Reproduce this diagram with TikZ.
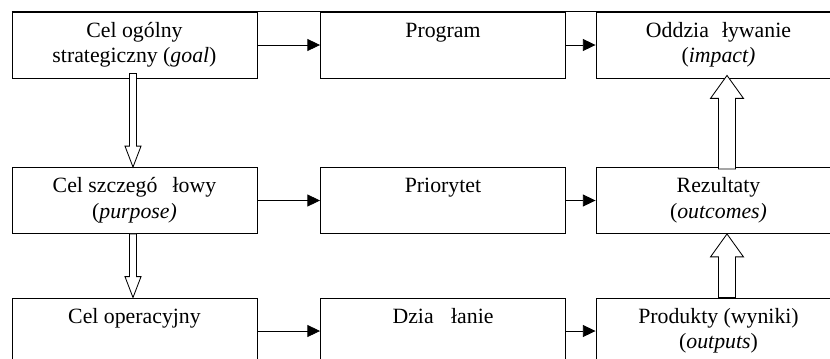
\documentclass[tikz,border=0pt]{standalone}
\usepackage{fontspec}
\setmainfont{Liberation Serif}
\usetikzlibrary{arrows.meta,calc}
\def\blockarrow[#1](#2)(#3)(#4:#5:#6){\draw[#1] let \p1=(#2), \p2=(#3), \n1={sign(\y2-\y1)*#6} in ({\x1-#4},\y1) -- ({\x1-#4},{\y2-\n1*1pt}) -- ({\x1-#5},{\y2-\n1*1pt}) -- (\x1,\y2) -- ({\x1+#5},{\y2-\n1*1pt}) -- ({\x1+#4},{\y2-\n1*1pt}) -- ({\x1+#4},\y1) -- cycle;}

\begin{document}
\begin{tikzpicture}[x=0.025cm, y=-0.025cm,
	box/.style={draw, line width=0.6pt, minimum width=6.125cm, minimum height=1.65cm, inner sep=0pt, align=center, font=\fontsize{15.5}{18}\selectfont},
	flow/.style={line width=0.6pt, -{Triangle[length=9pt,width=8.5pt]}},
	hollow/.style={line width=0.6pt, fill=white}]
		%%%%% START %%%%%
		
		\useasboundingbox (0, 0) rectangle (830, 358);
		\clip (0, 0) rectangle (830, 358);
		\coordinate (edge) at (830, 0);
		
		\node[box] (goal) at (134.5, 45) {\strut Cel ogólny\\\strut strategiczny (\textit{goal})};
		\node[box] (prog) at (443, 45) {\strut Program\\\strut};
		\node[box] (impact) at (718.5, 45) {\strut Oddzia\hspace{0.6em}ływanie\\\strut(\textit{impact)}};
		
		\node[box] (purpose) at (134.5, 200.5) {\strut Cel szczegó\hspace{0.7em}łowy\\\strut(\textit{purpose)}};
		\node[box] (prio) at (443, 200.5) {\strut Priorytet\\\strut};
		\node[box] (outcome) at (718.5, 200.5) {\strut Rezultaty\\\strut(\textit{outcomes)}};
		
		\node[box] (oper) at (134.5, 331) {\strut Cel operacyjny\\\strut};
		\node[box] (action) at (443, 331) {\strut Dzia\hspace{0.8em}łanie\\\strut};
		\node[box] (output) at (718.5, 331) {\strut Produkty (wyniki)\\\strut(\textit{outputs})};
		
		\draw[line width=0.6pt] (goal.north west) -- (goal.north west -| edge);
		
		\draw[flow] (goal) -- (prog);
		\draw[flow] (prog) -- (impact);
		\draw[flow] (purpose) -- (prio);
		\draw[flow] (prio) -- (outcome);
		\draw[flow] (oper) -- (action);
		\draw[flow] (action) -- (output);
		
		\coordinate (down1) at ($(goal.south)+(-1.5, -5)$);
		\coordinate (down2) at ($(purpose.south)+(-1.5, 0)$);
		\blockarrow[hollow](down1)(purpose.north)(2.5pt:5.7pt:14.9pt);
		\blockarrow[hollow](down2)(oper.north)(2.5pt:5.7pt:14.9pt);
		
		\coordinate (up1) at ($(output.north)+(8.5, 0)$);
		\coordinate (up2) at ($(outcome.north)+(8.5, 2)$);
		\coordinate (tip2) at ($(impact.south)+(0, -3)$);
		\blockarrow[hollow](up1)(outcome.south)(6pt:11.7pt:16.3pt);
		\blockarrow[hollow](up2)(tip2)(6pt:11.7pt:16.3pt);
		
		%%%%% END %%%%%
	\end{tikzpicture}
\end{document}
